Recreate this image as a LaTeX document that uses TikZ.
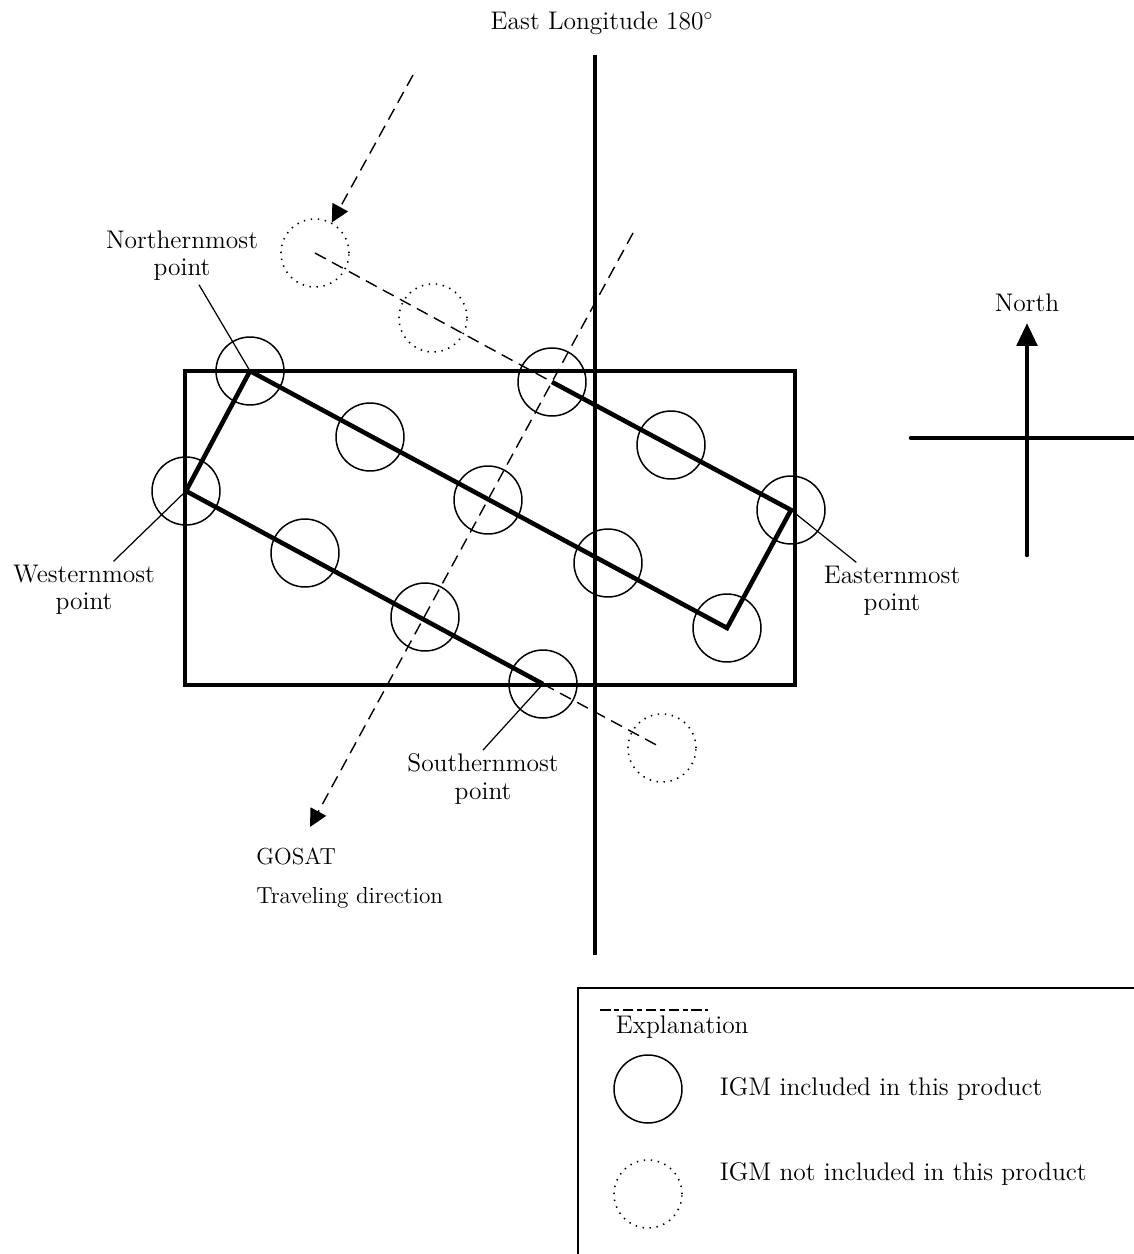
\documentclass[tikz,border=0pt]{standalone}
\usepackage{amsmath}
\usepackage{tikz}
\usetikzlibrary{arrows.meta,positioning}

\begin{document}
\begin{tikzpicture}[
  x=0.02cm, y=-0.02cm,
  igm/.style={circle, draw, line width=0.85pt, minimum size=1.36cm, inner sep=0pt},
  igmout/.style={circle, draw, line width=0.9pt, dash pattern=on 0.8pt off 3.2pt, minimum size=1.36cm, inner sep=0pt},
  border/.style={line width=2.6pt},
  scan/.style={line width=0.8pt, dash pattern=on 7pt off 4pt},
  leader/.style={line width=0.7pt},
  lbl/.style={align=center, font=\fontsize{14.5}{15.5}\selectfont, inner sep=2pt},
  arrow/.style={-{Triangle[length=10pt,width=10pt]}}
]
  \useasboundingbox (0,0) rectangle (1133,1254);

  % scene frame and date line
  \draw[border] (185,371) rectangle (795,685);
  \coordinate (meridtop) at (595,55);
  \coordinate (meridbot) at (595,955);
  \draw[border] (meridtop) -- (meridbot);
  \node[lbl] (meridlbl) at (602,23) {East Longitude 180$^{\circ}$};

  % IGM footprints
  \node[igm] (nmost) at (250,371) {};
  \node[igm] (wmost) at (186,491) {};
  \node[igm] (c1) at (370,437) {};
  \node[igm] (c2) at (305,553) {};
  \node[igm] (c3) at (488,500) {};
  \node[igm] (c4) at (425,617) {};
  \node[igm] (c5) at (608,563) {};
  \node[igm] (c6) at (552,382) {};
  \node[igm] (c7) at (671,445) {};
  \node[igm] (emost) at (791,510) {};
  \node[igm] (c8) at (727,628) {};
  \node[igm] (smost) at (543,684) {};
  \node[igmout] (d1) at (315,253) {};
  \node[igmout] (d2) at (433,318) {};
  \node[igmout] (d3) at (662,748) {};

  % product outline
  \draw[border] (nmost.center) -- (wmost.center) -- (smost.center);
  \draw[border] (nmost.center) -- (c8.center) -- (emost.center) -- (c6.center);

  % scan lines and travel direction
  \draw[scan] (d1.center) -- (c6.center);
  \draw[scan] (smost.center) -- (d3.center);
  \coordinate (inbeg) at (413,75);
  \draw[scan, arrow] (inbeg) -- (d1);
  \coordinate (trackbeg) at (633,233);
  \coordinate (trackend) at (310,827);
  \draw[scan, arrow] (trackbeg) -- (trackend);
  \node[right, align=left, font=\fontsize{13.2}{22}\selectfont, inner sep=0pt] (gosat) at (256,878) {GOSAT\\Traveling direction};

  % corner labels
  \node[lbl] (nlbl) at (182,256) {Northernmost\\point};
  \node[lbl] (wlbl) at (84,590) {Westernmost\\point};
  \node[lbl] (elbl) at (892,591) {Easternmost\\point};
  \node[lbl] (slbl) at (483,779) {Southernmost\\point};
  \draw[leader] (nlbl) -- (nmost.center);
  \draw[leader] (wlbl) -- (wmost.center);
  \draw[leader] (elbl) -- (emost.center);
  \draw[leader] (slbl.north) -- (smost.center);

  % compass
  \coordinate (nbase) at (1027,555);
  \coordinate (ntip) at (1027,323);
  \coordinate (ewbeg) at (911,438);
  \coordinate (ewend) at (1140,438);
  \draw[border, line cap=round, -{Triangle[length=13pt,width=11.5pt]}] (nbase) -- (ntip);
  \draw[border, line cap=round] (ewbeg) -- (ewend);
  \node[lbl] (northlbl) at (1027,303) {North};

  % legend
  \draw[line width=1pt] (578,1260) -- (578,988) -- (1140,988);
  \draw[line width=1pt, dash pattern=on 6pt off 2pt on 3pt off 2pt] (600,1010) -- (708,1010);
  \node[lbl, right] (expl) at (612,1027) {Explanation};
  \node[igm] (legin) at (648,1089) {};
  \node[lbl, right] (legintxt) at (716,1089) {IGM included in this product};
  \node[igmout] (legout) at (648,1194) {};
  \node[lbl, right] (legouttxt) at (716,1174) {IGM not included in this product};
\end{tikzpicture}
\end{document}
